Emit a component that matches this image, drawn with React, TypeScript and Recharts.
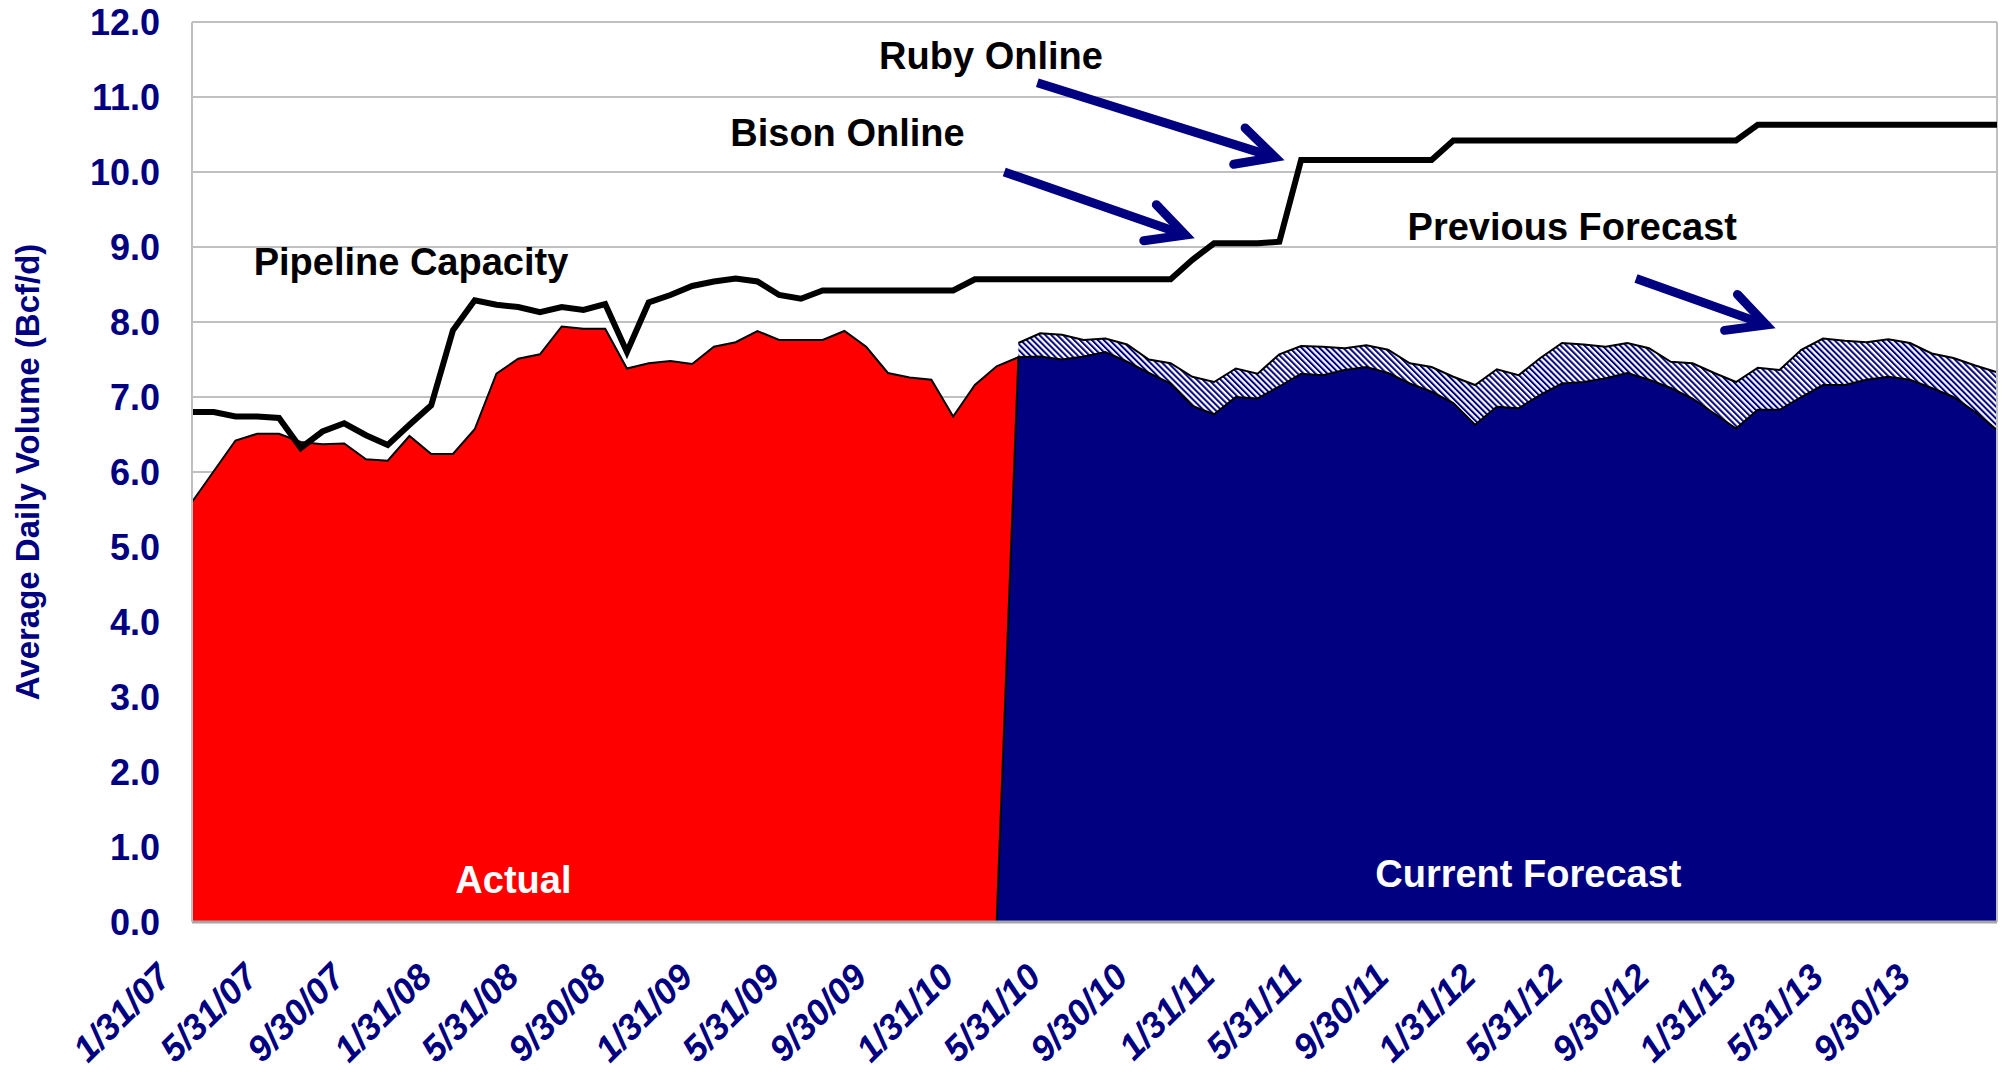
import React from "react";
import {
  ComposedChart,
  Area,
  Line,
  XAxis,
  YAxis,
  CartesianGrid,
  ReferenceLine,
  ReferenceDot,
} from "recharts";

// month-end dates on the category axis
const months = [
  "1/31/07", "2/28/07", "3/31/07", "4/30/07", "5/31/07", "6/30/07", "7/31/07", "8/31/07", "9/30/07", "10/31/07", "11/30/07", "12/31/07",
  "1/31/08", "2/29/08", "3/31/08", "4/30/08", "5/31/08", "6/30/08", "7/31/08", "8/31/08", "9/30/08", "10/31/08", "11/30/08", "12/31/08",
  "1/31/09", "2/28/09", "3/31/09", "4/30/09", "5/31/09", "6/30/09", "7/31/09", "8/31/09", "9/30/09", "10/31/09", "11/30/09", "12/31/09",
  "1/31/10", "2/28/10", "3/31/10", "4/30/10", "5/31/10", "6/30/10", "7/31/10", "8/31/10", "9/30/10", "10/31/10", "11/30/10", "12/31/10",
  "1/31/11", "2/28/11", "3/31/11", "4/30/11", "5/31/11", "6/30/11", "7/31/11", "8/31/11", "9/30/11", "10/31/11", "11/30/11", "12/31/11",
  "1/31/12", "2/29/12", "3/31/12", "4/30/12", "5/31/12", "6/30/12", "7/31/12", "8/31/12", "9/30/12", "10/31/12", "11/30/12", "12/31/12",
  "1/31/13", "2/28/13", "3/31/13", "4/30/13", "5/31/13", "6/30/13", "7/31/13", "8/31/13", "9/30/13", "10/31/13", "11/30/13", "12/31/13",
];

// every 4th month gets a label
const xTicks = [0, 4, 8, 12, 16, 20, 24, 28, 32, 36, 40, 44, 48, 52, 56, 60, 64, 68, 72, 76, 80];
const yTicks = [0, 1, 2, 3, 4, 5, 6, 7, 8, 9, 10, 11, 12];

// Bcf/d, starting at 1/31/07
const actual = [
  5.6, 6.01, 6.42, 6.51, 6.51, 6.4, 6.37, 6.38, 6.17, 6.15, 6.48, 6.24,
  6.24, 6.57, 7.31, 7.51, 7.57, 7.94, 7.91, 7.91, 7.38, 7.45, 7.48, 7.44,
  7.67, 7.73, 7.88, 7.76, 7.76, 7.76, 7.88, 7.67, 7.32, 7.26, 7.23, 6.74,
  7.16, 7.41, 7.53,
];

// starts at 2/28/10 (the ramp up from zero)
const CURRENT_START = 37;
const currentForecast = [
  0, 7.53, 7.54, 7.5, 7.54, 7.6, 7.47, 7.32, 7.18, 6.88, 6.77, 7.0,
  6.98, 7.14, 7.31, 7.29, 7.36, 7.4, 7.32, 7.18, 7.07, 6.92, 6.63, 6.87,
  6.85, 7.03, 7.18, 7.2, 7.25, 7.32, 7.23, 7.12, 6.98, 6.78, 6.58, 6.83,
  6.83, 7.0, 7.16, 7.16, 7.23, 7.27, 7.23, 7.12, 7.0, 6.8, 6.56,
];

// starts at 3/31/10
const PREVIOUS_START = 38;
const previousForecast = [
  7.72, 7.85, 7.83, 7.76, 7.78, 7.7, 7.5, 7.45, 7.27, 7.2, 7.38, 7.31,
  7.57, 7.68, 7.67, 7.65, 7.69, 7.63, 7.45, 7.4, 7.27, 7.16, 7.37, 7.29,
  7.52, 7.72, 7.7, 7.67, 7.72, 7.65, 7.47, 7.45, 7.32, 7.2, 7.39, 7.36,
  7.63, 7.78, 7.75, 7.73, 7.77, 7.72, 7.58, 7.52, 7.42, 7.33,
];

const pipelineCapacity = [
  6.8, 6.8, 6.74, 6.74, 6.72, 6.32, 6.54, 6.65, 6.49, 6.36, 6.63, 6.89,
  7.89, 8.29, 8.23, 8.2, 8.13, 8.2, 8.16, 8.24, 7.6, 8.26, 8.36, 8.48,
  8.54, 8.58, 8.54, 8.36, 8.31, 8.42, 8.42, 8.42, 8.42, 8.42, 8.42, 8.42,
  8.57, 8.57, 8.57, 8.57, 8.57, 8.57, 8.57, 8.57, 8.57, 8.57, 8.83, 9.05,
  9.05, 9.05, 9.07, 10.16, 10.16, 10.16, 10.16, 10.16, 10.16, 10.16, 10.42, 10.42,
  10.42, 10.42, 10.42, 10.42, 10.42, 10.42, 10.42, 10.42, 10.42, 10.42, 10.42, 10.42,
  10.63, 10.63, 10.63, 10.63, 10.63, 10.63, 10.63, 10.63, 10.63, 10.63, 10.63, 10.63,
];

// callouts, placed in chart units (month index, Bcf/d)
const notes = [
  { text: "Pipeline Capacity", x: 10.07, y: 8.81, color: "#000" },
  { text: "Ruby Online", x: 36.74, y: 11.55, color: "#000" },
  { text: "Bison Online", x: 30.14, y: 10.52, color: "#000" },
  { text: "Previous Forecast", x: 63.47, y: 9.27, color: "#000" },
  { text: "Actual", x: 14.78, y: 0.56, color: "#fff" },
  { text: "Current Forecast", x: 61.45, y: 0.65, color: "#fff" },
];

const arrows = [
  { x1: 38.87, y1: 11.19, x2: 50.2, y2: 10.16 },
  { x1: 37.35, y1: 10.0, x2: 46.07, y2: 9.12 },
  { x1: 66.4, y1: 8.58, x2: 72.78, y2: 7.92 },
];

const data = months.map((m, i) => ({
  idx: i,
  month: m,
  actual: i < actual.length ? actual[i] : null,
  current: i >= CURRENT_START ? currentForecast[i - CURRENT_START] : null,
  previous: i >= PREVIOUS_START ? previousForecast[i - PREVIOUS_START] : null,
  capacity: pipelineCapacity[i],
}));

const NAVY = "#000080";
const GRID = "#c0c0c0";

const XTick = ({ x, y, payload }: any) => {
  const ax = x - 19;
  const ay = y + 57;
  return (
    <text
      x={ax}
      y={ay}
      transform={`rotate(-45 ${ax} ${ay})`}
      textAnchor="end"
      fill={NAVY}
      fontSize={36}
      fontWeight="bold"
      fontStyle="italic"
    >
      {months[payload.value]}
    </text>
  );
};

const YTitle = (p: any) => {
  const vb = p.viewBox || { x: 0, y: 22, height: 900 };
  const cx = vb.x + 19;
  const cy = vb.y + vb.height / 2;
  return (
    <text
      x={cx}
      y={cy}
      transform={`rotate(-90 ${cx} ${cy})`}
      textAnchor="middle"
      dominantBaseline="central"
      fill={NAVY}
      fontSize={33}
      fontWeight="bold"
    >
      Average Daily Volume (Bcf/d)
    </text>
  );
};

// thick navy arrow with an open V head
const Arrow = (p: any) => {
  const { x1, y1, x2, y2 } = p;
  const a = Math.atan2(y2 - y1, x2 - x1);
  const len = 42;
  const spread = (27 * Math.PI) / 180;
  const tx = x2 - 9 * Math.cos(a);
  const ty = y2 - 9 * Math.sin(a);
  const w1x = tx - len * Math.cos(a - spread);
  const w1y = ty - len * Math.sin(a - spread);
  const w2x = tx - len * Math.cos(a + spread);
  const w2y = ty - len * Math.sin(a + spread);
  return (
    <g>
      <line x1={x1} y1={y1} x2={tx - 4 * Math.cos(a)} y2={ty - 4 * Math.sin(a)} stroke={NAVY} strokeWidth={9} />
      <polyline
        points={`${w1x},${w1y} ${tx},${ty} ${w2x},${w2y}`}
        fill="none"
        stroke={NAVY}
        strokeWidth={9}
        strokeLinejoin="miter"
        strokeLinecap="round"
      />
    </g>
  );
};

export default function App() {
  return (
    <div style={{ padding: "0 0 0 8px", width: 1993, height: 1076, fontFamily: "'Liberation Sans', Arial, sans-serif" }}>
      <style>{"body{margin:0;overflow:hidden}"}</style>
      <ComposedChart
        width={1993}
        height={1076}
        data={data}
        margin={{ top: 22, right: 4, bottom: 24, left: 0 }}
        style={{ overflow: "visible" }}
      >
        <defs>
          <pattern
            id="hatch"
            width={4.2}
            height={4.2}
            patternUnits="userSpaceOnUse"
            patternTransform="rotate(-45)"
          >
            <rect width={4.2} height={4.2} fill="#fff" />
            <rect width={2} height={4.2} fill={NAVY} />
          </pattern>
        </defs>

        <CartesianGrid vertical={false} stroke={GRID} strokeWidth={2} />

        <XAxis
          type="number"
          dataKey="idx"
          domain={[0, 83]}
          ticks={xTicks}
          interval={0}
          tick={<XTick />}
          tickLine={false}
          tickSize={0}
          tickMargin={0}
          height={130}
          axisLine={{ stroke: "#a6a6a6", strokeWidth: 3 }}
        />
        <YAxis
          type="number"
          domain={[0, 12]}
          ticks={yTicks}
          interval={0}
          width={184}
          tickFormatter={(v: number) => v.toFixed(1)}
          tick={{ fill: NAVY, fontSize: 36, fontWeight: "bold" }}
          tickLine={false}
          tickSize={0}
          tickMargin={32}
          axisLine={{ stroke: GRID, strokeWidth: 2 }}
          label={YTitle}
        />

        <ReferenceLine x={83} stroke={GRID} strokeWidth={2} />

        <Area
          dataKey="actual"
          fill="#ff0000"
          fillOpacity={1}
          stroke="#000"
          strokeWidth={2}
          type="linear"
          dot={false}
          activeDot={false}
          isAnimationActive={false}
        />
        <Area
          dataKey="previous"
          fill="url(#hatch)"
          fillOpacity={1}
          stroke="#000"
          strokeWidth={2}
          type="linear"
          dot={false}
          activeDot={false}
          isAnimationActive={false}
        />
        <Area
          dataKey="current"
          fill={NAVY}
          fillOpacity={1}
          stroke="#000"
          strokeWidth={2}
          type="linear"
          dot={false}
          activeDot={false}
          isAnimationActive={false}
        />
        <Line
          dataKey="capacity"
          stroke="#000"
          strokeWidth={6}
          type="linear"
          dot={false}
          activeDot={false}
          isAnimationActive={false}
        />

        {arrows.map((a, i) => (
          <ReferenceLine
            key={"arrow" + i}
            segment={[
              { x: a.x1, y: a.y1 },
              { x: a.x2, y: a.y2 },
            ]}
            shape={Arrow}
            ifOverflow="visible"
          />
        ))}

        {notes.map((n) => (
          <ReferenceDot
            key={n.text}
            x={n.x}
            y={n.y}
            r={0}
            fill="none"
            stroke="none"
            ifOverflow="visible"
            label={{
              value: n.text,
              position: "center",
              fill: n.color,
              fontSize: 38,
              fontWeight: "bold",
            }}
          />
        ))}
      </ComposedChart>
    </div>
  );
}
